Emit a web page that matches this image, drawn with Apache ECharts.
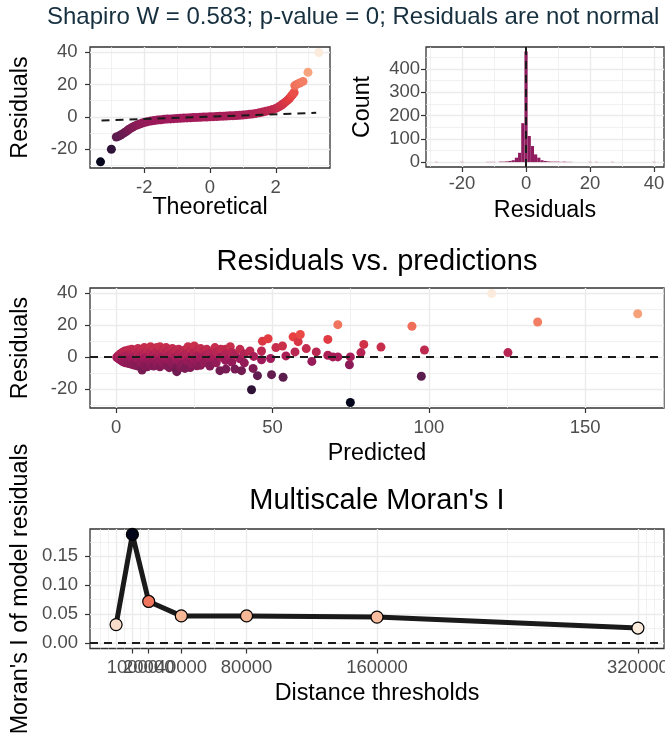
<!DOCTYPE html>
<html>
<head>
<meta charset="utf-8">
<script src="https://cdn.jsdelivr.net/npm/echarts@6/dist/echarts.min.js"></script>
<style>
  html, body { margin: 0; background: #fff; }
  #chart { width: 665px; height: 739px; }
</style>
</head>
<body>
<div id="chart"></div>
<script>
// ---- QQ plot: sorted residuals against theoretical normal quantiles
var qqTheoretical = [-3.33, -3.0, -2.85, -2.78, -2.72, -2.66, -2.6, -2.54, -2.48, -2.42, -2.36, -2.3, -2.22, -2.14, -2.06, -1.98, -1.9, -1.8, -1.7, -1.6, -1.5, -1.4, -1.3, -1.2, -1.1, -1.0, -0.9, -0.8, -0.7, -0.6, -0.5, -0.4, -0.3, -0.2, -0.1, 0, 0.1, 0.2, 0.3, 0.4, 0.5, 0.6, 0.7, 0.8, 0.9, 1.0, 1.1, 1.2, 1.3, 1.4, 1.5, 1.6, 1.7, 1.8, 1.9, 2.0, 2.06, 2.12, 2.18, 2.24, 2.3, 2.36, 2.42, 2.48, 2.52, 2.56, 2.58, 2.65, 2.73, 2.83, 2.98, 3.31];
var qqResidual = [-27.9, -20.1, -12.5, -12.0, -11.3, -10.6, -9.8, -9.0, -8.0, -7.2, -6.5, -5.8, -5.1, -4.5, -3.9, -3.4, -3.0, -2.6, -2.3, -2.0, -1.8, -1.6, -1.4, -1.3, -1.15, -1.0, -0.9, -0.8, -0.7, -0.6, -0.5, -0.4, -0.3, -0.2, -0.1, 0, 0.1, 0.2, 0.3, 0.4, 0.5, 0.6, 0.7, 0.8, 0.95, 1.1, 1.3, 1.5, 1.8, 2.1, 2.5, 2.9, 3.4, 3.9, 4.5, 5.2, 5.8, 6.5, 7.3, 8.2, 9.2, 10.3, 11.5, 13.0, 14.0, 15.0, 19.3, 20.2, 20.9, 21.9, 27.5, 39.8];
var qqLineX = [-3.30, 3.23];
var qqLineY = [-2.28, 2.46];

// ---- histogram of residuals (bin centre, count)
var histBinWidth = 1;
var histBinMid = [-28, -20, -12, -11, -10, -8, -7, -6, -5, -4, -3, -2, -1, 0, 1, 2, 3, 4, 5, 6, 7, 8, 9, 10, 11, 12, 13, 14, 20, 22, 27, 40];
var histCount  = [1, 1, 1, 1, 1, 2, 2, 3, 5, 8, 19, 40, 167, 475, 112, 69, 33, 19, 8, 5, 3, 2, 2, 2, 1, 2, 1, 1, 1, 1, 1, 1];

// ---- residuals vs predictions
var predicted = [0.2, 0.6, 0.6, 1, 1, 1, 1.5, 1.5, 2, 2, 2, 2.5, 2.5, 2.5, 3, 3, 3, 3, 4, 4, 4, 4, 5, 5, 5, 5, 6, 6, 6, 6, 7, 7, 7, 7, 8, 8, 8, 8.3, 9, 9, 9, 9, 10, 10, 10, 10, 11, 11, 11, 11, 12, 12, 12, 12, 13, 13, 13, 13, 14, 14, 14, 14, 15, 15, 15, 16, 16, 16, 16, 17, 17, 17, 17, 18, 18, 18, 19, 19, 19, 19.4, 20, 20, 20, 20.5, 21, 21, 21, 22, 22, 22, 23, 23, 23, 23.7, 24, 24, 24, 25, 25, 25, 25.8, 26, 26, 26, 27, 27, 27, 28, 28, 28, 29, 29, 30, 30, 30, 31.6, 31.5, 32, 32, 33.2, 33.5, 33.5, 35, 35, 35, 35.1, 36.5, 36.5, 37, 37, 38, 38, 39.6, 39.6, 40.1, 41, 41, 42.8, 43.3, 43.8, 44, 45.2, 46.5, 46.5, 46.8, 48.6, 49.4, 49.7, 51.1, 53.2, 53.4, 54.3, 56.6, 57.2, 58.2, 58.9, 60.8, 62.6, 64, 67.7, 67.7, 69.3, 70.9, 70.9, 74.6, 74.9, 74.9, 78.3, 79.2, 84.7, 94.6, 97.6, 98.6, 120.1, 125.3, 134.8, 166.8];
var residual  = [0, 0.8, -0.6, 1.5, -1.2, 0.2, 2.2, -1.8, 3, -2.5, 0.5, 3.5, 0, -3, 4, 1, -2, -3.5, 4.5, 1.5, -1.5, -4, 5, 2, -1, -4.5, 4, 0.5, -3, -5, 5.5, 2.5, -1.5, -5.5, 4.5, 1, -3.5, -8, 6, 2.5, -1, -5, 5, 0, -3, -6, 6.5, 3, -1.5, -4.5, 5.5, 1.5, -2.5, -5.5, 6, 3.5, -0.5, -4, 6.5, 2, -2, -6, 5, 0.5, -3.5, 6, 3, -1, -5, 4.5, 1, -2.5, -6.5, 5.5, 2.5, -4, 4, 0, -7, -9, 5, 2, -2, -6.4, 3.5, -0.5, -4.5, 4.5, 1.5, -7, 6.5, 2.5, -2.5, -6.4, 5, 0.5, -4, 7, 3, -1.5, -5.3, 4.5, 1, -3, 5.5, -0.5, -5, 3.5, 0, -3.5, 4.9, 1.5, 2.5, -1.5, -5.5, 6, 0.5, 3, -3.5, -8.4, 5, 0, 4.9, 2, -2, -7.4, 6.5, 0, 3, -3, -7.4, 1.5, 4.9, -1, -8.4, 2, -3.5, 3.9, -20.3, -7, 0.5, -11.5, 3.9, -1.6, 10, 11.5, -0.8, -10.9, 6, 7, -12.5, 0.8, 12.7, 3.3, 9.7, 14.2, 5.4, -2.6, 3.3, 11.1, 1.2, 0.2, 20.3, 0.2, -4.7, 0.2, -28.3, 2.9, 8, 6.3, 19.3, -11.9, 4.5, 39.8, 2.9, 22, 27.1];

// ---- multiscale Moran's I
var moranDistance = [0, 10000, 20000, 40000, 80000, 160000, 320000];
var moranI = [0.032, 0.188, 0.072, 0.047, 0.047, 0.045, 0.026];

// ---- tick values
var qqXTicks = [-2, 0, 2];
var qqXMinor = [-3, -1, 1, 3];
var residTicks = [-20, 0, 20, 40];
var residMinor = [-30, -10, 10, 30];
var histXTicks = [-20, 0, 20, 40];
var histXMinor = [-30, -10, 10, 30];
var countTicks = [0, 100, 200, 300, 400];
var countMinor = [50, 150, 250, 350, 450];
var predTicks = [0, 50, 100, 150];
var predMinor = [25, 75, 125, 175];
var moranYTicks = [0, 0.05, 0.10, 0.15];
var moranYMinor = [0.025, 0.075, 0.125, 0.175];
var moranXMinor = [-10000, -5000, 5000, 15000, 30000, 60000, 120000, 240000, 325000, 330000];

var rocket = ['#03051A', '#4C1D4B', '#A11A5B', '#E83F3F', '#F69C73', '#FAEBDD'];
var font = 'Liberation Sans, Arial, sans-serif';
var tickFont = 18.5, titleFont = 23.3;

function zip(a, b) { return a.map(function (v, i) { return [v, b[i]]; }); }
function plain(v) { return String(v); }

function majorAxis(grid, min, max, ticks, margin, fmt, name, nameGap) {
  var ax = {
    type: 'value', gridIndex: grid, min: min, max: max,
    axisLine: { show: false, onZero: false },
    axisTick: { show: true, length: 5, customValues: ticks, lineStyle: { color: '#333', width: 1.2 } },
    axisLabel: { customValues: ticks, margin: margin, color: '#4d4d4d', fontSize: tickFont, fontFamily: font, formatter: fmt || plain },
    splitLine: { show: true, lineStyle: { color: '#ebebeb', width: 1.4 } }
  };
  if (name) {
    ax.name = name;
    ax.nameLocation = 'middle';
    ax.nameGap = nameGap;
    ax.nameMoveOverlap = false;
    ax.nameTextStyle = { fontSize: titleFont, color: '#000', fontFamily: font };
  }
  return ax;
}
function minorAxis(grid, min, max, ticks) {
  return {
    type: 'value', gridIndex: grid, min: min, max: max,
    axisLine: { show: false, onZero: false },
    axisTick: { show: false, customValues: ticks },
    axisLabel: { show: false, customValues: ticks },
    splitLine: { show: true, lineStyle: { color: '#ebebeb', width: 0.7 } }
  };
}
function dashed(w) { return { color: '#1a1a1a', width: w, type: [8, 6] }; }
var zeroLine = function (axisKey) {
  var d = {}; d[axisKey] = 0;
  return { silent: true, symbol: ['none', 'none'], label: { show: false }, lineStyle: dashed(2), data: [d] };
};

var gridBase = { show: true, borderColor: '#333', borderWidth: 1.3, backgroundColor: '#fff', outerBoundsMode: 'none', containLabel: false };

var chart = echarts.init(document.getElementById('chart'), null, { renderer: 'canvas' });

var option = {
  backgroundColor: '#fff',
  animation: false,
  title: [
    { text: 'Shapiro W = 0.583; p-value = 0; Residuals are not normal', left: 47, top: 5, padding: 0,
      textStyle: { fontSize: 24, fontWeight: 'normal', color: '#17303f', fontFamily: font } },
    { text: 'Residuals vs. predictions', left: 377, top: 247, padding: 0, textAlign: 'center',
      textStyle: { fontSize: 29, fontWeight: 'normal', color: '#000', fontFamily: font } },
    { text: "Multiscale Moran's I", left: 377, top: 486, padding: 0, textAlign: 'center',
      textStyle: { fontSize: 29, fontWeight: 'normal', color: '#000', fontFamily: font } }
  ],
  grid: [
    Object.assign({ left: 90, top: 47, width: 240, height: 121 }, gridBase),
    Object.assign({ left: 426, top: 47, width: 238, height: 120 }, gridBase),
    Object.assign({ left: 90, top: 288, width: 574, height: 120 }, gridBase),
    Object.assign({ left: 90, top: 529, width: 574, height: 119.5 }, gridBase)
  ],
  xAxis: [
    majorAxis(0, -3.65, 3.65, qqXTicks, 10.5, null, 'Theoretical', 28),
    minorAxis(0, -3.65, 3.65, qqXMinor),
    majorAxis(1, -31.25, 43.1, histXTicks, 7, null, 'Residuals', 32),
    minorAxis(1, -31.25, 43.1, histXMinor),
    majorAxis(2, -8.35, 175.2, predTicks, 10.5, null, 'Predicted', 34),
    minorAxis(2, -8.35, 175.2, predMinor),
    majorAxis(3, -16000, 336000, moranDistance, 10, null, 'Distance thresholds', 34),
    minorAxis(3, -16000, 336000, moranXMinor)
  ],
  yAxis: [
    majorAxis(0, -31.7, 43.2, residTicks, 12.5),
    minorAxis(0, -31.7, 43.2, residMinor),
    majorAxis(1, -21, 494, countTicks, 6),
    minorAxis(1, -21, 494, countMinor),
    majorAxis(2, -31.7, 43.2, residTicks, 12.5),
    minorAxis(2, -31.7, 43.2, residMinor),
    majorAxis(3, -0.0094, 0.1974, moranYTicks, 12, function (v) { return v.toFixed(2); }),
    minorAxis(3, -0.0094, 0.1974, moranYMinor)
  ],
  visualMap: [
    { type: 'continuous', show: false, seriesIndex: [0, 3], dimension: 1,
      min: Math.min.apply(null, residual), max: Math.max.apply(null, residual),
      inRange: { color: rocket } },
    { type: 'continuous', show: false, seriesIndex: 5, dimension: 1,
      min: Math.min.apply(null, moranI), max: Math.max.apply(null, moranI),
      inRange: { color: rocket.slice().reverse() } }
  ],
  series: [
    { type: 'scatter', xAxisIndex: 0, yAxisIndex: 0, symbolSize: 9, data: zip(qqTheoretical, qqResidual),
      itemStyle: { opacity: 1 }, silent: true },
    { type: 'line', xAxisIndex: 0, yAxisIndex: 0, symbol: 'none', data: zip(qqLineX, qqLineY), lineStyle: dashed(2), silent: true, z: 3 },
    { type: 'custom', xAxisIndex: 2, yAxisIndex: 2, data: zip(histBinMid, histCount), encode: { x: 0, y: 1 },
      renderItem: function (params, api) {
        var mid = api.value(0), cnt = api.value(1);
        var p0 = api.coord([mid - histBinWidth / 2, cnt]);
        var p1 = api.coord([mid + histBinWidth / 2, 0]);
        return { type: 'rect', shape: { x: p0[0], y: p0[1], width: p1[0] - p0[0], height: p1[1] - p0[1] },
                 style: { fill: '#8e1c5e' } };
      },
      markLine: zeroLine('xAxis')
    },
    { type: 'scatter', xAxisIndex: 4, yAxisIndex: 4, symbolSize: 9, data: zip(predicted, residual),
      itemStyle: { opacity: 1 }, silent: true, markLine: zeroLine('yAxis') },
    { type: 'line', xAxisIndex: 6, yAxisIndex: 6, symbol: 'none', data: zip(moranDistance, moranI),
      lineStyle: { color: '#1a1a1a', width: 5 }, silent: true, markLine: zeroLine('yAxis') },
    { type: 'scatter', xAxisIndex: 6, yAxisIndex: 6, symbolSize: 12, data: zip(moranDistance, moranI), silent: true,
      itemStyle: { borderColor: '#000', borderWidth: 1.2, opacity: 1 }, z: 4 }
  ],
  graphic: [
    { type: 'text', x: 21, y: 107.5, rotation: Math.PI / 2,
      style: { text: 'Residuals', align: 'center', verticalAlign: 'middle', fontSize: titleFont, fontFamily: font, fill: '#000' } },
    { type: 'text', x: 362.7, y: 107, rotation: Math.PI / 2,
      style: { text: 'Count', align: 'center', verticalAlign: 'middle', fontSize: titleFont, fontFamily: font, fill: '#000' } },
    { type: 'text', x: 21, y: 348, rotation: Math.PI / 2,
      style: { text: 'Residuals', align: 'center', verticalAlign: 'middle', fontSize: titleFont, fontFamily: font, fill: '#000' } },
    { type: 'text', x: 21, y: 589, rotation: Math.PI / 2,
      style: { text: "Moran's I of model residuals", align: 'center', verticalAlign: 'middle', fontSize: titleFont, fontFamily: font, fill: '#000' } }
  ]
};
chart.setOption(option);
</script>
</body>
</html>
